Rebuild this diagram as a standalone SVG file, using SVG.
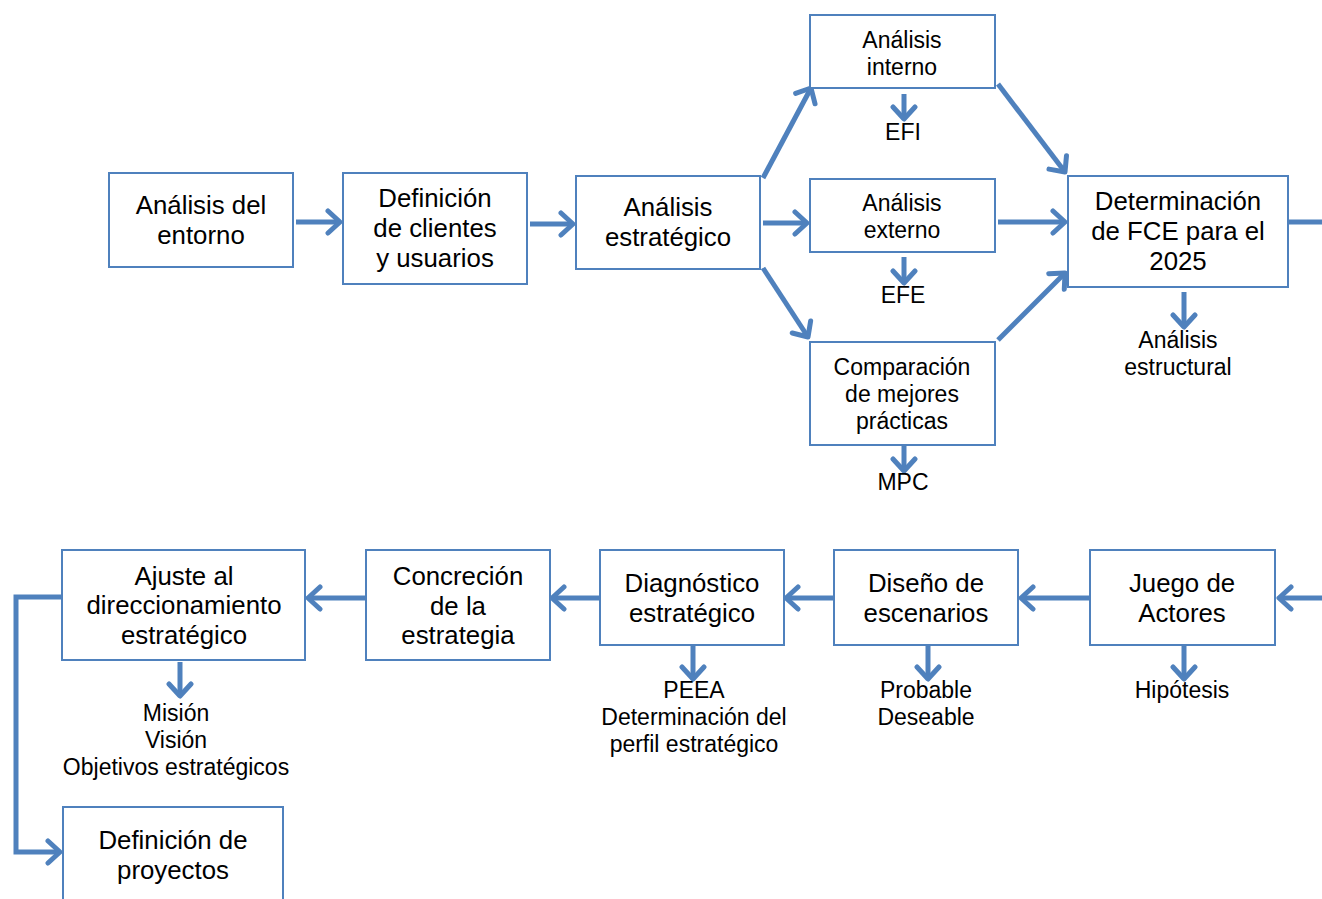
<svg xmlns="http://www.w3.org/2000/svg" width="1322" height="899" viewBox="0 0 1322 899">
<defs>
<style>
.box{fill:#fff;stroke:#4F81BD;stroke-width:2}
.t{font-family:"Liberation Sans",Arial,sans-serif;font-size:25.8px;fill:#000;text-anchor:middle}
.s{font-family:"Liberation Sans",Arial,sans-serif;font-size:23px;fill:#000;text-anchor:middle}
.l{font-family:"Liberation Sans",Arial,sans-serif;font-size:23px;fill:#000;text-anchor:middle}
.c{fill:none;stroke:#4F81BD;stroke-width:5}
.a{marker-end:url(#ah)}
</style>
<marker id="ah" markerUnits="userSpaceOnUse" viewBox="0 0 20 28" markerWidth="20" markerHeight="28" refX="16" refY="14" orient="auto">
<path d="M4,3 L16,14 L4,25" fill="none" stroke="#4F81BD" stroke-width="5" stroke-linecap="round" stroke-linejoin="round"/>
</marker>
</defs>
<rect width="1322" height="899" fill="#fff"/>
<g id="connectors">
<line class="c a" x1="296" y1="222" x2="340" y2="222"/>
<line class="c a" x1="530" y1="224" x2="573" y2="224"/>
<line class="c a" x1="763" y1="178" x2="811" y2="88"/>
<line class="c a" x1="763" y1="223" x2="807" y2="223"/>
<line class="c a" x1="763" y1="268" x2="808" y2="337"/>
<line class="c a" x1="998" y1="84" x2="1065" y2="172"/>
<line class="c a" x1="998" y1="222" x2="1065" y2="222"/>
<line class="c a" x1="998" y1="340" x2="1065" y2="273"/>
<line class="c a" x1="904" y1="94" x2="904" y2="119"/>
<line class="c a" x1="904" y1="257" x2="904" y2="283"/>
<line class="c a" x1="904" y1="446" x2="904" y2="471"/>
<line class="c a" x1="1184" y1="292" x2="1184" y2="327"/>
<path class="c a" d="M1289,222 H1327 V598 H1279"/>
<line class="c a" x1="1184" y1="646" x2="1184" y2="679"/>
<line class="c a" x1="1090" y1="598" x2="1021" y2="598"/>
<line class="c a" x1="928" y1="646" x2="928" y2="679"/>
<line class="c a" x1="834" y1="598" x2="786" y2="598"/>
<line class="c a" x1="693" y1="646" x2="693" y2="679"/>
<line class="c a" x1="600" y1="598" x2="552" y2="598"/>
<line class="c a" x1="366" y1="598" x2="308" y2="598"/>
<line class="c a" x1="180" y1="662" x2="180" y2="696"/>
<path class="c a" d="M62,597 H16 V852 H60"/>
</g>
<g id="n-entorno"><rect class="box" x="109" y="173" width="184" height="94"/><text class="t" x="201" y="214">Análisis del</text><text class="t" x="201" y="244">entorno</text></g>
<g id="n-clientes"><rect class="box" x="343" y="173" width="184" height="111"/><text class="t" x="435" y="207">Definición</text><text class="t" x="435" y="237">de clientes</text><text class="t" x="435" y="267">y usuarios</text></g>
<g id="n-estrategico"><rect class="box" x="576" y="176" width="184" height="93"/><text class="t" x="668" y="216">Análisis</text><text class="t" x="668" y="246">estratégico</text></g>
<g id="n-interno"><rect class="box" x="810" y="15" width="185" height="73"/><text class="s" x="902" y="48">Análisis</text><text class="s" x="902" y="75">interno</text></g>
<g id="l-efi"><text class="l" x="903" y="140">EFI</text></g>
<g id="n-externo"><rect class="box" x="810" y="179" width="185" height="73"/><text class="s" x="902" y="211">Análisis</text><text class="s" x="902" y="238">externo</text></g>
<g id="l-efe"><text class="l" x="903" y="303">EFE</text></g>
<g id="n-comparacion"><rect class="box" x="810" y="342" width="185" height="103"/><text class="s" x="902" y="375">Comparación</text><text class="s" x="902" y="402">de mejores</text><text class="s" x="902" y="429">prácticas</text></g>
<g id="l-mpc"><text class="l" x="903" y="490">MPC</text></g>
<g id="n-fce"><rect class="box" x="1068" y="176" width="220" height="111"/><text class="t" x="1178" y="210">Determinación</text><text class="t" x="1178" y="240">de FCE para el</text><text class="t" x="1178" y="270">2025</text></g>
<g id="l-estructural"><text class="l" x="1178" y="348">Análisis</text><text class="l" x="1178" y="375">estructural</text></g>
<g id="n-juego"><rect class="box" x="1090" y="550" width="185" height="95"/><text class="t" x="1182" y="592">Juego de</text><text class="t" x="1182" y="622">Actores</text></g>
<g id="l-hipotesis"><text class="l" x="1182" y="698">Hipótesis</text></g>
<g id="n-escenarios"><rect class="box" x="834" y="550" width="184" height="95"/><text class="t" x="926" y="592">Diseño de</text><text class="t" x="926" y="622">escenarios</text></g>
<g id="l-escenarios"><text class="l" x="926" y="698">Probable</text><text class="l" x="926" y="725">Deseable</text></g>
<g id="n-diagnostico"><rect class="box" x="600" y="550" width="184" height="95"/><text class="t" x="692" y="592">Diagnóstico</text><text class="t" x="692" y="622">estratégico</text></g>
<g id="l-peea"><text class="l" x="694" y="698">PEEA</text><text class="l" x="694" y="725">Determinación del</text><text class="l" x="694" y="752">perfil estratégico</text></g>
<g id="n-concrecion"><rect class="box" x="366" y="550" width="184" height="110"/><text class="t" x="458" y="585">Concreción</text><text class="t" x="458" y="615">de la</text><text class="t" x="458" y="644">estrategia</text></g>
<g id="n-ajuste"><rect class="box" x="62" y="550" width="243" height="110"/><text class="t" x="184" y="585">Ajuste al</text><text class="t" x="184" y="614">direccionamiento</text><text class="t" x="184" y="644">estratégico</text></g>
<g id="l-mision"><text class="l" x="176" y="721">Misión</text><text class="l" x="176" y="748">Visión</text><text class="l" x="176" y="775">Objetivos estratégicos</text></g>
<g id="n-proyectos"><rect class="box" x="63" y="807" width="220" height="100"/><text class="t" x="173" y="849">Definición de</text><text class="t" x="173" y="879">proyectos</text></g>
</svg>
